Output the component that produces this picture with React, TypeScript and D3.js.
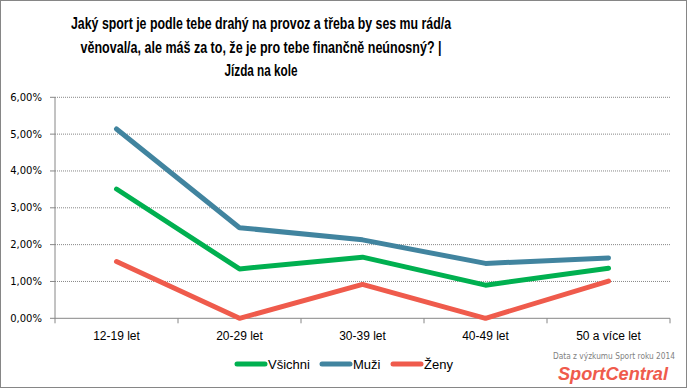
import React from "react";
import * as d3 from "d3";

const categories = ["12-19 let", "20-29 let", "30-39 let", "40-49 let", "50 a více let"];
const seriesNames = ["Všichni", "Muži", "Ženy"];
const vsichni = [3.51, 1.34, 1.66, 0.9, 1.36];
const muzi = [5.14, 2.46, 2.13, 1.49, 1.64];
const zeny = [1.54, 0, 0.92, 0, 1.01];
const yTicks = [0, 1, 2, 3, 4, 5, 6];
const titleLines = [
  "Jaký sport je podle tebe drahý na provoz a třeba by ses mu rád/a",
  "věnoval/a, ale máš za to, že je pro tebe finančně neúnosný? |",
  "Jízda na kole",
];
const titleWidths = [380, 361, 73];
const colors = ["#00B050", "#41849F", "#EF5B4C"];

export default function App() {
  const W = 687, H = 388;
  const x0 = 55, x1 = 670, yTop = 97.3, yBot = 318.3;
  const x = d3.scaleBand<string>().domain(categories).range([x0, x1]);
  const y = d3.scaleLinear().domain([0, 6]).range([yBot, yTop]);
  const data = [vsichni, muzi, zeny];
  const line = d3
    .line<number>()
    .x((_, i) => (x(categories[i]) as number) + x.bandwidth() / 2)
    .y((d) => y(d));
  const fmt = (v: number) => v.toFixed(2).replace(".", ",") + "%";
  const legendX = [237, 322, 393];
  return (
    <svg
      width={W}
      height={H}
      style={{ position: "absolute", left: 0, top: 0, background: "#fff" }}
    >
      <rect x={0.5} y={0.5} width={W - 1} height={H - 1} fill="#fff" stroke="#868686" />
      {titleLines.map((t, i) => (
        <text
          key={i}
          x={261}
          y={29 + i * 23.5}
          textAnchor="middle"
          fontFamily="'Liberation Sans Narrow', 'Liberation Sans', sans-serif"
          fontWeight="bold"
          fontSize={16}
          textLength={titleWidths[i]}
          lengthAdjust="spacingAndGlyphs"
          fill="#000"
        >
          {t}
        </text>
      ))}
      {yTicks.map((t) => (
        <g key={t}>
          {t > 0 && (
            <line
              x1={x0}
              x2={x1}
              y1={y(t)}
              y2={y(t)}
              stroke="#868686"
              strokeDasharray="1,1"
            />
          )}
          <line x1={x0 - 5} x2={x0} y1={y(t)} y2={y(t)} stroke="#868686" />
          <text
            x={42}
            y={y(t)}
            dy="0.35em"
            textAnchor="end"
            fontFamily="'DejaVu Sans', sans-serif"
            fontSize={10}
            fill="#000"
          >
            {fmt(t)}
          </text>
        </g>
      ))}
      <line x1={x0} x2={x0} y1={yTop} y2={yBot} stroke="#868686" />
      <line x1={x0} x2={x1} y1={yBot} y2={yBot} stroke="#868686" />
      {categories.map((c, i) => (
        <g key={c}>
          <line
            x1={(x(c) as number) + x.bandwidth()}
            x2={(x(c) as number) + x.bandwidth()}
            y1={yBot}
            y2={yBot + 5}
            stroke="#868686"
          />
          {i === 0 && (
            <line x1={x0} x2={x0} y1={yBot} y2={yBot + 5} stroke="#868686" />
          )}
          <text
            x={(x(c) as number) + x.bandwidth() / 2}
            y={340}
            textAnchor="middle"
            fontFamily="'Liberation Sans', sans-serif"
            fontSize={12}
            fill="#000"
          >
            {c}
          </text>
        </g>
      ))}
      {data.map((d, i) => (
        <path
          key={i}
          d={line(d) as string}
          fill="none"
          stroke={colors[i]}
          strokeWidth={5}
          strokeLinecap="round"
          strokeLinejoin="round"
        />
      ))}
      {seriesNames.map((n, i) => (
        <g key={n}>
          <line
            x1={legendX[i]}
            x2={legendX[i] + 28}
            y1={364}
            y2={364}
            stroke={colors[i]}
            strokeWidth={5}
            strokeLinecap="round"
          />
          <text
            x={legendX[i] + 31}
            y={368.5}
            fontFamily="'Liberation Sans', sans-serif"
            fontSize={13}
            fill="#000"
          >
            {n}
          </text>
        </g>
      ))}
      <text
        x={675}
        y={359}
        textAnchor="end"
        fontFamily="'DejaVu Sans', sans-serif"
        fontSize={8}
        fill="#7f7f7f"
        textLength={122}
        lengthAdjust="spacingAndGlyphs"
      >
        Data z výzkumu Sport roku 2014
      </text>
      <text
        x={668}
        y={380}
        textAnchor="end"
        fontFamily="'Liberation Sans', sans-serif"
        fontWeight="bold"
        fontStyle="italic"
        fontSize={19}
        fill="#EF5B4C"
        textLength={110}
        lengthAdjust="spacingAndGlyphs"
      >
        SportCentral
      </text>
    </svg>
  );
}
